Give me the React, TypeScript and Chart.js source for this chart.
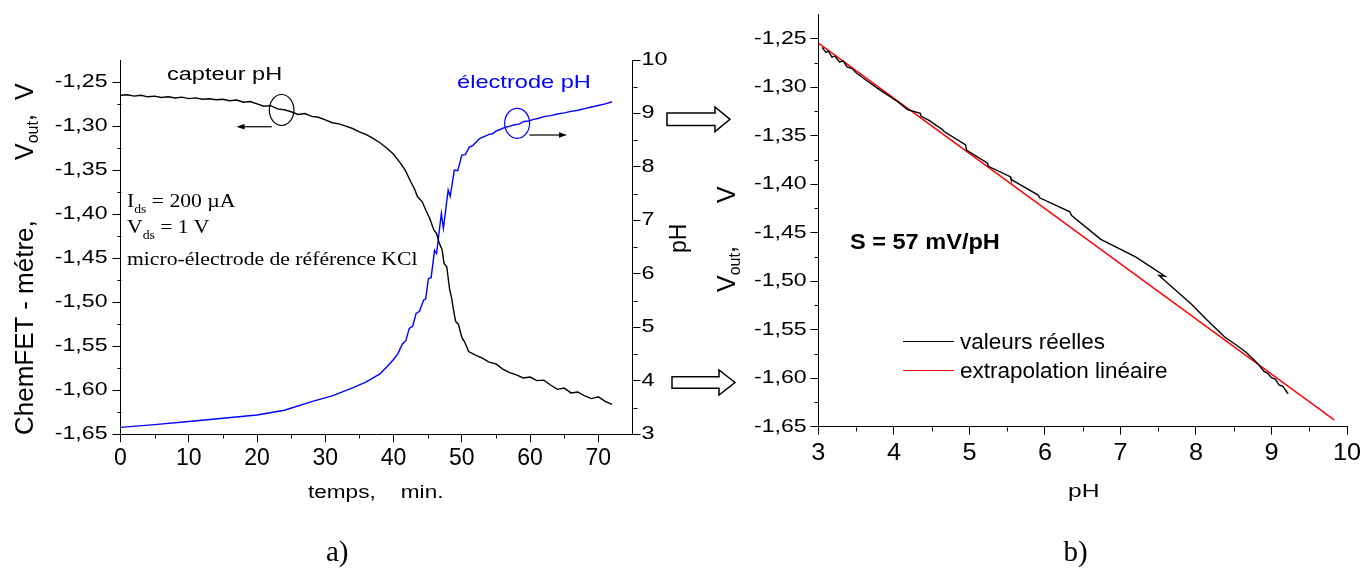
import React, { useEffect, useRef } from 'react';
import { Chart, registerables } from 'chart.js';
Chart.register(...registerables);

// ---------- data (a) ----------
const timeCapteur = [0, 1, 2, 3, 4, 5, 6, 7, 8, 9, 10, 11, 12, 13, 14, 15, 16, 17, 18, 19, 20, 21, 22, 23, 24, 25, 26, 27, 28, 29, 30, 31, 32, 33, 34, 35, 36, 37, 38, 39, 40, 41, 41.7, 42.5, 43.1, 43.5, 44.2, 44.7, 45.3, 45.9, 46.3, 46.7, 47.1, 47.4, 47.8, 48.2, 48.5, 48.8, 49.1, 49.5, 50.0, 50.4, 51.0, 52, 53, 54, 55, 56, 57, 58, 59, 60, 61, 62, 63, 64, 65, 66, 67, 68, 69, 70, 71, 72];
const vCapteur = [-1.2650, -1.2645, -1.2660, -1.2650, -1.2668, -1.2660, -1.2675, -1.2668, -1.2682, -1.2672, -1.2688, -1.2680, -1.2695, -1.2690, -1.2702, -1.2695, -1.2712, -1.2705, -1.2730, -1.2722, -1.2748, -1.2775, -1.2768, -1.2805, -1.2815, -1.2838, -1.2868, -1.2858, -1.2890, -1.2900, -1.2930, -1.2962, -1.2975, -1.3000, -1.3028, -1.3065, -1.3098, -1.3140, -1.3190, -1.3250, -1.3320, -1.3420, -1.3500, -1.3630, -1.3720, -1.3800, -1.3860, -1.3950, -1.4050, -1.4180, -1.4220, -1.4330, -1.4400, -1.4560, -1.4600, -1.4850, -1.4950, -1.5100, -1.5220, -1.5250, -1.5400, -1.5450, -1.5560, -1.5600, -1.5635, -1.5680, -1.5700, -1.5760, -1.5800, -1.5825, -1.5860, -1.5850, -1.5890, -1.5885, -1.5940, -1.5990, -1.5975, -1.6030, -1.6020, -1.6065, -1.6095, -1.6075, -1.6125, -1.6160];

const timeElectrode = [0, 5, 10, 15, 20, 24, 28, 31, 34, 36, 38, 39, 40, 40.6, 41.3, 41.8, 42.3, 42.8, 43.3, 43.8, 44.4, 44.7, 45.1, 45.5, 46.0, 46.3, 47.0, 47.3, 48.0, 48.3, 48.9, 49.4, 50.0, 50.5, 51.1, 51.6, 52.6, 53.5, 54, 54.5, 55, 55.6, 56.3, 57, 57.7, 58.4, 59.1, 59.8, 60.5, 61.3, 62, 63, 64, 65, 66, 67, 68, 69, 70, 71, 72];
const phElectrode = [3.13, 3.18, 3.24, 3.30, 3.36, 3.45, 3.61, 3.72, 3.87, 3.98, 4.13, 4.26, 4.40, 4.50, 4.69, 4.75, 4.98, 5.02, 5.26, 5.30, 5.51, 5.53, 5.91, 5.93, 6.44, 6.38, 7.13, 6.85, 7.57, 7.45, 7.94, 7.93, 8.22, 8.23, 8.37, 8.40, 8.53, 8.58, 8.61, 8.62, 8.67, 8.70, 8.74, 8.76, 8.79, 8.80, 8.85, 8.86, 8.89, 8.91, 8.94, 8.96, 8.99, 9.01, 9.04, 9.06, 9.09, 9.12, 9.15, 9.18, 9.22];

const timeTicks = [0, 10, 20, 30, 40, 50, 60, 70];
const timeMinor = [5, 15, 25, 35, 45, 55, 65];
const voltTicks = [-1.65, -1.6, -1.55, -1.5, -1.45, -1.4, -1.35, -1.3, -1.25];
const voltMinor = [-1.625, -1.575, -1.525, -1.475, -1.425, -1.375, -1.325, -1.275];
const phTicks = [3, 4, 5, 6, 7, 8, 9, 10];
const phMinor = [3.5, 4.5, 5.5, 6.5, 7.5, 8.5, 9.5];

// annotation anchors (data coordinates)
const circleCapteur = [23.6, -1.2818];
const arrowCapteurT = [22.15, 17.0];
const arrowCapteurV = -1.3008;
const circleElectrode = [58.1, 8.815];
const arrowElectrodeT = [59.9, 65.4];
const arrowElectrodePh = 8.597;

// ---------- data (b) ----------
const phReel = [3.05, 3.10, 3.13, 3.18, 3.22, 3.28, 3.33, 3.38, 3.45, 3.50, 3.62, 3.78, 3.95, 4.05, 4.18, 4.35, 4.36, 4.46, 4.65, 4.66, 4.95, 4.96, 5.24, 5.25, 5.54, 5.55, 5.91, 5.93, 6.33, 6.35, 6.74, 7.20, 7.59, 7.51, 7.87, 7.93, 8.15, 8.38, 8.50, 8.66, 8.82, 8.90, 8.95, 9.00, 9.05, 9.10, 9.15, 9.22];
const vReel = [-1.2590, -1.2640, -1.2625, -1.2690, -1.2680, -1.2740, -1.2730, -1.2790, -1.2810, -1.2850, -1.2920, -1.3009, -1.3096, -1.3150, -1.3230, -1.3270, -1.3300, -1.3340, -1.3440, -1.3455, -1.3595, -1.3647, -1.3784, -1.3815, -1.3922, -1.3950, -1.4112, -1.4140, -1.4284, -1.4320, -1.4569, -1.4749, -1.4948, -1.4941, -1.5189, -1.5230, -1.5403, -1.5575, -1.5640, -1.5730, -1.5850, -1.5930, -1.5950, -1.5995, -1.6010, -1.6070, -1.6085, -1.6160];
const phFit = [3, 9.83];
const vFit = [-1.2545, -1.6429];

const SANS = '"Liberation Sans", Arial, sans-serif';
const SERIF = '"Liberation Serif", "Times New Roman", serif';

type Side = 'left' | 'right' | 'bottom';
type LabelCfg = { id: string; side: Side; size: number; sx: number; pad: number; fmt: (v: number) => string };
type MinorCfg = { id: string; side: Side; values: number[]; len: number };

const fmtVolt = (v: number) => v.toFixed(2).replace('.', ',');
const fmtInt = (v: number) => String(Math.round(v));

function axisDecor(labels: LabelCfg[], minors: MinorCfg[]) {
  return {
    id: 'axisDecor',
    afterDraw(chart: any) {
      const ctx = chart.ctx as CanvasRenderingContext2D;
      const a = chart.chartArea;
      ctx.save();
      ctx.strokeStyle = '#000';
      ctx.lineWidth = 1;
      minors.forEach((m) => {
        const s = chart.scales[m.id];
        m.values.forEach((v) => {
          const p = Math.round(s.getPixelForValue(v)) + 0.5;
          ctx.beginPath();
          if (m.side === 'left') {
            const x0 = Math.round(a.left) + 0.5;
            ctx.moveTo(x0 - m.len, p); ctx.lineTo(x0, p);
          } else if (m.side === 'right') {
            const x0 = Math.round(a.right) + 0.5;
            ctx.moveTo(x0, p); ctx.lineTo(x0 + m.len, p);
          } else {
            const y0 = Math.round(a.bottom) + 0.5;
            ctx.moveTo(p, y0); ctx.lineTo(p, y0 + m.len);
          }
          ctx.stroke();
        });
      });
      ctx.fillStyle = '#000';
      labels.forEach((c) => {
        const s = chart.scales[c.id];
        ctx.font = `${c.size}px ${SANS}`;
        s.ticks.forEach((t: any) => {
          const p = s.getPixelForValue(t.value);
          ctx.save();
          if (c.side === 'left') {
            ctx.translate(a.left - c.pad, p);
            ctx.textAlign = 'right';
            ctx.textBaseline = 'middle';
          } else if (c.side === 'right') {
            ctx.translate(a.right + c.pad, p);
            ctx.textAlign = 'left';
            ctx.textBaseline = 'middle';
          } else {
            ctx.translate(p, a.bottom + c.pad);
            ctx.textAlign = 'center';
            ctx.textBaseline = 'alphabetic';
          }
          ctx.scale(c.sx, 1);
          ctx.fillText(c.fmt(t.value), 0, 0);
          ctx.restore();
        });
      });
      ctx.restore();
    },
  };
}

function ellipse(ctx: CanvasRenderingContext2D, x: number, y: number, rx: number, ry: number, color: string) {
  ctx.beginPath();
  ctx.strokeStyle = color;
  ctx.lineWidth = 1.2;
  ctx.ellipse(x, y, rx, ry, 0, 0, Math.PI * 2);
  ctx.stroke();
}
function hArrow(ctx: CanvasRenderingContext2D, x1: number, x2: number, y: number) {
  const dir = x2 > x1 ? 1 : -1;
  ctx.beginPath();
  ctx.strokeStyle = '#000';
  ctx.lineWidth = 1.2;
  ctx.moveTo(x1, y);
  ctx.lineTo(x2 - dir * 6, y);
  ctx.stroke();
  ctx.beginPath();
  ctx.fillStyle = '#000';
  ctx.moveTo(x2, y);
  ctx.lineTo(x2 - dir * 8, y - 2.8);
  ctx.lineTo(x2 - dir * 8, y + 2.8);
  ctx.closePath();
  ctx.fill();
}

const annotPlugin = {
  id: 'annot',
  afterDatasetsDraw(chart: any) {
    const ctx = chart.ctx as CanvasRenderingContext2D;
    const x = chart.scales.x, y = chart.scales.y, y2 = chart.scales.y2;
    ctx.save();
    ellipse(ctx, x.getPixelForValue(circleCapteur[0]), y.getPixelForValue(circleCapteur[1]), 12.3, 15.5, '#000');
    hArrow(ctx, x.getPixelForValue(arrowCapteurT[0]), x.getPixelForValue(arrowCapteurT[1]), y.getPixelForValue(arrowCapteurV));
    ellipse(ctx, x.getPixelForValue(circleElectrode[0]), y2.getPixelForValue(circleElectrode[1]), 12.5, 15, '#0000ff');
    hArrow(ctx, x.getPixelForValue(arrowElectrodeT[0]), x.getPixelForValue(arrowElectrodeT[1]), y2.getPixelForValue(arrowElectrodePh));
    ctx.restore();
  },
};

const axisBase = (ticks: number[], size: (s: any) => void) => ({
  type: 'linear' as const,
  ticks: { display: false },
  grid: { drawOnChartArea: false, drawTicks: true, tickLength: 8, color: '#000', lineWidth: 1 },
  border: { display: true, color: '#000', width: 1 },
  afterBuildTicks: (s: any) => { s.ticks = ticks.map((v) => ({ value: v })); },
  afterFit: size,
});

const pts = (xs: number[], ys: number[]) => xs.map((v, i) => ({ x: v, y: ys[i] }));

function T(props: { x: number; b: number; size: number; serif?: boolean; sx?: number; color?: string; bold?: boolean; children: any }) {
  const { x, b, size, serif, sx = 1, color = '#000', bold, children } = props;
  const asc = serif ? 0.8375 : 0.8465;
  return (
    <div style={{ position: 'absolute', left: x, top: b - asc * size, fontFamily: serif ? SERIF : SANS, fontSize: size, lineHeight: `${size}px`, whiteSpace: 'pre', color, fontWeight: bold ? 700 : 400, transform: `scaleX(${sx})`, transformOrigin: '0 0' }}>
      {children}
    </div>
  );
}
function VT(props: { bx: number; y: number; size: number; children: any }) {
  const { bx, y, size, children } = props;
  return (
    <div style={{ position: 'absolute', left: bx - 0.8465 * size, top: y, fontFamily: SANS, fontSize: size, lineHeight: `${size}px`, whiteSpace: 'pre', color: '#000', transform: 'rotate(-90deg)', transformOrigin: '0 0' }}>
      {children}
    </div>
  );
}
const Sub = (p: { size: number; dy: number; children: any }) => (
  <span style={{ fontSize: p.size, position: 'relative', top: p.dy, lineHeight: 0 }}>{p.children}</span>
);

export default function App() {
  const c1 = useRef<HTMLCanvasElement>(null);
  const c2 = useRef<HTMLCanvasElement>(null);

  useEffect(() => {
    const ch1 = new Chart(c1.current as HTMLCanvasElement, {
      type: 'line',
      data: {
        datasets: [
          { label: 'capteur pH', data: pts(timeCapteur, vCapteur), yAxisID: 'y', borderColor: '#000', borderWidth: 1.4, pointRadius: 0, tension: 0, fill: false },
          { label: 'électrode pH', data: pts(timeElectrode, phElectrode), yAxisID: 'y2', borderColor: '#0000ff', borderWidth: 1.4, pointRadius: 0, tension: 0, fill: false },
        ],
      },
      options: {
        responsive: false,
        animation: false,
        parsing: false,
        layout: { padding: { left: 0, right: 0, top: 60, bottom: 0 } },
        plugins: { legend: { display: false }, tooltip: { enabled: false }, title: { display: false } },
        scales: {
          x: { ...axisBase(timeTicks, (s: any) => { s.height = 133.7; }), position: 'bottom', min: 0, max: 75 },
          y: { ...axisBase(voltTicks, (s: any) => { s.width = 120.5; }), position: 'left', min: -1.65, max: -1.225 },
          y2: { ...axisBase(phTicks, (s: any) => { s.width = 67.5; }), position: 'right', min: 3, max: 10 },
        },
      } as any,
      plugins: [
        annotPlugin,
        axisDecor(
          [
            { id: 'x', side: 'bottom', size: 23, sx: 1, pad: 30.7, fmt: fmtInt },
            { id: 'y', side: 'left', size: 18.5, sx: 1.25, pad: 13, fmt: fmtVolt },
            { id: 'y2', side: 'right', size: 18, sx: 1.3, pad: 9, fmt: fmtInt },
          ],
          [
            { id: 'x', side: 'bottom', values: timeMinor, len: 4 },
            { id: 'y', side: 'left', values: voltMinor, len: 4 },
            { id: 'y2', side: 'right', values: phMinor, len: 4 },
          ]
        ),
      ],
    });

    const ch2 = new Chart(c2.current as HTMLCanvasElement, {
      type: 'line',
      data: {
        datasets: [
          { label: 'valeurs réelles', data: pts(phReel, vReel), borderColor: '#000', borderWidth: 1.4, pointRadius: 0, tension: 0, fill: false },
          { label: 'extrapolation linéaire', data: pts(phFit, vFit), borderColor: '#ff0000', borderWidth: 1.4, pointRadius: 0, tension: 0, fill: false },
        ],
      },
      options: {
        responsive: false,
        animation: false,
        parsing: false,
        layout: { padding: { left: 0, right: 16, top: 14.5, bottom: 0 } },
        plugins: { legend: { display: false }, tooltip: { enabled: false }, title: { display: false } },
        scales: {
          x: { ...axisBase(phTicks, (s: any) => { s.height = 141.3; }), position: 'bottom', min: 3, max: 10 },
          y: { ...axisBase(voltTicks, (s: any) => { s.width = 118.4; }), position: 'left', min: -1.65, max: -1.225 },
        },
      } as any,
      plugins: [
        axisDecor(
          [
            { id: 'x', side: 'bottom', size: 23, sx: 1.1, pad: 33.3, fmt: fmtInt },
            { id: 'y', side: 'left', size: 18.5, sx: 1.25, pad: 11.7, fmt: fmtVolt },
          ],
          [
            { id: 'x', side: 'bottom', values: phMinor, len: 4 },
            { id: 'y', side: 'left', values: voltMinor, len: 4 },
          ]
        ),
      ],
    });

    return () => {
      ch1.destroy();
      ch2.destroy();
    };
  }, []);

  return (
    <div style={{ position: 'absolute', left: 0, top: 0, width: 1363, height: 568, background: '#fff', overflow: 'hidden' }}>
      <canvas ref={c1} width={700} height={568} style={{ position: 'absolute', left: 0, top: 0 }} />
      <canvas ref={c2} width={663} height={568} style={{ position: 'absolute', left: 700, top: 0 }} />

      {/* chart a) texts */}
      <T x={167} b={80.7} size={18.7} sx={1.26}>capteur pH</T>
      <T x={456.5} b={88.3} size={18.6} sx={1.27} color="#0000ff">électrode pH</T>
      <T x={127} b={207.3} size={19} sx={1.14} serif>I<Sub size={12} dy={6}>ds</Sub> = 200 µA</T>
      <T x={127} b={233.3} size={19} sx={1.14} serif>V<Sub size={12} dy={6}>ds</Sub> = 1 V</T>
      <T x={127} b={265} size={19} sx={1.14} serif>micro-électrode de référence KCl</T>
      <T x={308} b={499} size={18.5} sx={1.22}>temps,    min.</T>
      <T x={326} b={561} size={29} serif>a)</T>
      <VT bx={33.3} y={435} size={26}>ChemFET - métre,</VT>
      <VT bx={33.3} y={160} size={25}>V<Sub size={16} dy={5}>out</Sub>,</VT>
      <VT bx={33.3} y={100} size={25}>V</VT>
      <VT bx={686.5} y={253} size={23}>pH</VT>

      {/* chart b) texts */}
      <T x={850} b={250} size={22} sx={1.07} bold>S = 57 mV/pH</T>
      <div style={{ position: 'absolute', left: 903, top: 341, width: 51, borderTop: '1.5px solid #000' }} />
      <div style={{ position: 'absolute', left: 903, top: 370, width: 51, borderTop: '1.5px solid #ff0000' }} />
      <T x={960} b={350} size={22.5}>valeurs réelles</T>
      <T x={960} b={379} size={22.5}>extrapolation linéaire</T>
      <T x={1068} b={498} size={18.5} sx={1.33}>pH</T>
      <T x={1063.6} b={561} size={29} serif>b)</T>
      <VT bx={735} y={203} size={25}>V</VT>
      <VT bx={735} y={292} size={25}>V<Sub size={16} dy={5}>out</Sub>,</VT>

      {/* hollow block arrows between panels */}
      <svg width={1363} height={568} style={{ position: 'absolute', left: 0, top: 0, pointerEvents: 'none' }}>
        <polygon points="667,113 715,113 715,107 730,119.3 715,131.7 715,125.5 667,125.5" fill="#fff" stroke="#000" strokeWidth={1.5} />
        <polygon points="672,376.7 719,376.7 719,370 735,382.5 719,395 719,388.3 672,388.3" fill="#fff" stroke="#000" strokeWidth={1.5} />
      </svg>
    </div>
  );
}
